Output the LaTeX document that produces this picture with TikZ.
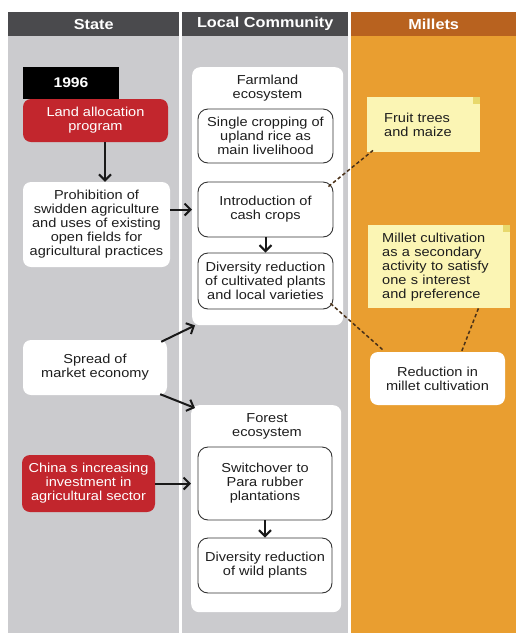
\documentclass[tikz,border=0pt]{standalone}
\usepackage{fontspec}
\setsansfont{Liberation Sans}[FakeStretch=1.12]
\usetikzlibrary{positioning,arrows.meta,calc}
\definecolor{cCol}{HTML}{CBCBCE}
\definecolor{cHead}{HTML}{4A4A4D}
\definecolor{cMil}{HTML}{E99E30}
\definecolor{cMilHead}{HTML}{B8621F}
\definecolor{cRed}{HTML}{C2262D}
\definecolor{cNote}{HTML}{FBF5B4}
\definecolor{cNoteB}{HTML}{E8D86C}
\definecolor{cDash}{HTML}{4A3118}
\definecolor{cText}{HTML}{1E1E1E}

\begin{document}
\begin{tikzpicture}[
  x=1pt,y=-1pt,
  font=\sffamily\fontsize{13}{14}\selectfont,
  >={Straight Barb[length=6pt,width=12pt]},
  column/.style ={inner sep=0pt,anchor=north west,minimum height=621},
  header/.style ={inner sep=0pt,anchor=north west,minimum height=24,text=white,font=\sffamily\bfseries\fontsize{14.5}{16}\selectfont},
  redbox/.style ={rounded corners=8pt,fill=cRed,text=white,align=center,inner sep=2pt},
  yearbox/.style={fill=black,text=white,inner sep=0pt,font=\sffamily\bfseries\fontsize{14}{16}\selectfont},
  whitebox/.style={rounded corners=8pt,fill=white,text=cText,align=center,inner sep=2pt},
  panel/.style  ={rounded corners=8pt,fill=white,inner sep=0pt,anchor=north west},
  cell/.style   ={rounded corners=10pt,draw=black!80,line width=0.9pt,fill=white,text=cText,align=center,inner sep=2pt},
  note/.style   ={fill=cNote,text=cText,align=left,anchor=north west},
  flow/.style   ={->,line width=2pt,black!90},
  link/.style   ={line width=1.5pt,cDash,dash pattern=on 3.5pt off 2.5pt},
]
\useasboundingbox (0,0) rectangle (516,633);

% =====================================================================
% COLUMNS AND HEADERS
% =====================================================================
\node[column,fill=cCol,minimum width=171] (stateCol) at (8,12) {};
\node[column,fill=cCol,minimum width=166] (localCol) at (182,12) {};
\node[column,fill=cMil,minimum width=165] (milCol)   at (351,12) {};

\node[header,fill=cHead,minimum width=171]    (stateHead) at (stateCol.north west) {State};
\node[header,fill=cHead,minimum width=166]    (localHead) at (localCol.north west) {Local Community};
\node[header,fill=cMilHead,minimum width=165] (milHead)   at (milCol.north west)   {Millets};

% =====================================================================
% STATE
% =====================================================================
\node[redbox,minimum width=145,minimum height=43] (landprog) at (95.5,120.5) {Land allocation\\program};
\node[yearbox,minimum width=96,minimum height=32,anchor=south west] (year) at (landprog.north west) {1996};
\node[whitebox,minimum width=147,minimum height=85] (prohib) at (96.5,224.5)
  {Prohibition of\\swidden agriculture\\and uses of existing\\open fields for\\agricultural practices};
\node[whitebox,minimum width=144,minimum height=55] (spread) at (95,367.5) {Spread of\\market economy};
\node[redbox,minimum width=133,minimum height=57] (china) at (88.5,483.5)
  {China s increasing\\investment in\\agricultural sector};

% =====================================================================
% LOCAL COMMUNITY
% =====================================================================
\node[panel,minimum width=151,minimum height=258] (farm) at (192,67) {};
\node[align=center,text=cText] (farmTitle) at (267.5,88) {Farmland\\ecosystem};
\node[cell,minimum width=135,minimum height=54] (single)  at (265.5,136)   {Single cropping of\\upland rice as\\main livelihood};
\node[cell,minimum width=135,minimum height=55] (intro)   at (265.5,209.5) {Introduction of\\cash crops};
\node[cell,minimum width=135,minimum height=56] (divcult) at (265.5,281)   {Diversity reduction\\of cultivated plants\\and local varieties};

\node[panel,minimum width=150,minimum height=207] (forest) at (191,405) {};
\node[align=center,text=cText] (forestTitle) at (267,426) {Forest\\ecosystem};
\node[cell,minimum width=134,minimum height=73] (switch)  at (265,483.5) {Switchover to\\Para rubber\\plantations};
\node[cell,minimum width=134,minimum height=55] (divwild) at (265,565.5) {Diversity reduction\\of wild plants};

% =====================================================================
% MILLETS
% =====================================================================
\node[note,minimum width=113,minimum height=55,text width=79,inner xsep=17pt] (fruit) at (367,97) {Fruit trees\\and maize};
\node[note,minimum width=142,minimum height=83,text width=114,inner xsep=14pt] (milnote) at (368,225)
  {Millet cultivation\\as a secondary\\activity to satisfy\\one s interest\\and preference};
\fill[cNoteB] (fruit.north east) rectangle ++(-7,7);
\fill[cNoteB] (milnote.north east) rectangle ++(-7,7);
\node[whitebox,minimum width=135,minimum height=53] (reduction) at (437.5,378.5) {Reduction in\\millet cultivation};

% =====================================================================
% CONNECTORS
% =====================================================================
\coordinate (dropX) at (105,0);
\draw[flow] (landprog.south -| dropX) -- (prohib.north -| dropX);
\draw[flow] (prohib.east |- intro.west) -- (farm.west |- intro.west);
\draw[flow] ([shift={(-6,2)}]spread.north east) -- ([xshift=3]farm.south west);
\draw[flow] ([shift={(-7,-1)}]spread.south east) -- ([shift={(4,3)}]forest.north west);
\draw[flow] (china.east) -- (forest.west |- china.east);
\draw[flow] (intro.south) -- (divcult.north);
\draw[flow] (switch.south) -- (divwild.north);

\draw[link] ([shift={(-5,5)}]intro.north east) -- ([shift={(6,-2)}]fruit.south west);
\draw[link] ([shift={(-3,-6)}]divcult.south east) -- ([shift={(13,-2)}]reduction.north west);
\draw[link] ([xshift=-32]milnote.south east) -- ([xshift=24]reduction.north);

\end{tikzpicture}
\end{document}
